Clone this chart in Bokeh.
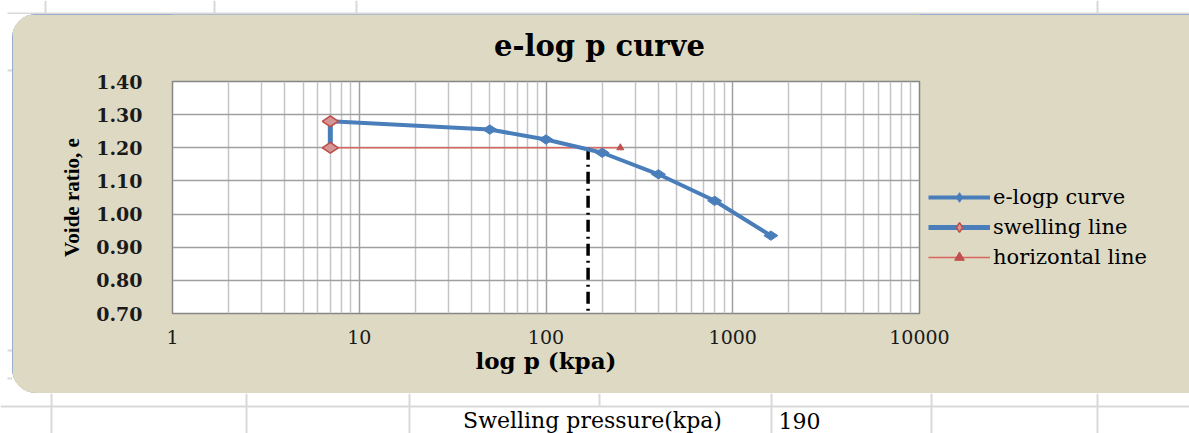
import numpy as np
from bokeh.plotting import figure
from bokeh.layouts import column, row
from bokeh.models import (Range1d, FixedTicker, NumeralTickFormatter, Label,
                          Legend, LegendItem)
from bokeh.embed import file_html
from bokeh.resources import INLINE

# ---------------- data ----------------
p_curve = [7, 50, 100, 200, 400, 800, 1600]
e_curve = [1.28, 1.255, 1.225, 1.185, 1.12, 1.04, 0.935]
p_swell = [7, 7]
e_swell = [1.28, 1.20]
p_horiz = [7, 250]
e_horiz = [1.20, 1.20]
p_vert = [168, 168]
e_vert = [1.20, 0.70]
x_major = [1, 10, 100, 1000, 10000]
x_minor = [m * d for d in [1, 10, 100, 1000] for m in range(2, 10)]
y_ticks = [0.70, 0.80, 0.90, 1.00, 1.10, 1.20, 1.30, 1.40]
series_names = ["e-logp curve", "swelling line", "horizontal line"]
title_text = "e-log p  curve"
x_title = "log p (kpa)"
y_title = "Voide ratio, e"
cell_label = "Swelling pressure(kpa)"
cell_value = "190"

SERIF = "DejaVu Serif"
BEIGE = "#DDD9C3"
CELL = "#D9D9D9"
FW, FH = 747, 232          # plot frame
BL, BR = 160, 270          # borders left / right of the frame
CW = BL + FW + BR          # chart object width
TH = 55                    # title strip height
PH = 12 + FH + 80          # plot part height


def blank(w, h, bg):
    f = figure(width=w, height=h, x_range=Range1d(0, w), y_range=Range1d(h, 0),
               output_backend="svg", toolbar_location=None, min_border=0,
               x_axis_location=None, y_axis_location=None)
    f.grid.visible = False
    f.outline_line_color = None
    f.background_fill_color = bg
    f.border_fill_color = bg
    return f


# ---------------- title strip of the chart object ----------------
tfig = figure(frame_width=FW, frame_height=TH, x_range=Range1d(0, FW),
              y_range=Range1d(TH, 0), output_backend="svg", toolbar_location=None,
              min_border_left=BL, min_border_right=BR, min_border_top=0,
              min_border_bottom=0, x_axis_location=None, y_axis_location=None)
tfig.grid.visible = False
tfig.outline_line_color = None
tfig.background_fill_color = BEIGE
tfig.border_fill_color = BEIGE
tfig.add_layout(Label(x=432, y=31, text=title_text, text_align="center",
                      text_baseline="middle", text_font=SERIF,
                      text_font_style="bold", text_font_size="29px",
                      text_color="black"))

# ---------------- plot part of the chart object ----------------
p = figure(frame_width=FW, frame_height=FH, x_axis_type="log",
           x_range=Range1d(1, 10000), y_range=Range1d(0.7, 1.4),
           output_backend="svg", toolbar_location=None,
           min_border_left=BL, min_border_right=BR,
           min_border_top=12, min_border_bottom=80)
p.title.visible = False
p.border_fill_color = BEIGE
p.background_fill_color = "white"
p.outline_line_color = "#868686"
p.outline_line_width = 1.5

p.xaxis.ticker = FixedTicker(ticks=x_major, minor_ticks=x_minor)
p.xaxis.formatter = NumeralTickFormatter(format="0")
p.yaxis.ticker = FixedTicker(ticks=y_ticks)
p.yaxis.formatter = NumeralTickFormatter(format="0.00")

for ax in (p.xaxis[0], p.yaxis[0]):
    ax.axis_line_color = None
    ax.major_tick_line_color = None
    ax.minor_tick_line_color = None
    ax.major_label_text_font = SERIF
    ax.major_label_text_color = "#1a1a1a"
    ax.axis_label_text_font_style = "bold"
    ax.axis_label_text_color = "black"

p.xaxis.major_label_text_font_size = "19px"
p.xaxis.major_label_standoff = 10
p.xaxis.axis_label = x_title
p.xaxis.axis_label_text_font = SERIF
p.xaxis.axis_label_text_font_size = "23px"
p.xaxis.axis_label_standoff = 0

p.yaxis.major_label_text_font_size = "19px"
p.yaxis.major_label_text_font_style = "bold"
p.yaxis.major_label_standoff = 24
p.yaxis.axis_label = y_title
p.yaxis.axis_label_text_font = "Liberation Serif"
p.yaxis.axis_label_text_font_size = "21px"
p.yaxis.axis_label_standoff = 9

p.xgrid.grid_line_color = "#A0A0A0"
p.xgrid.grid_line_width = 1.5
p.xgrid.minor_grid_line_color = "#C4C4C4"
p.xgrid.minor_grid_line_width = 1.5
p.ygrid.grid_line_color = "#A0A0A0"
p.ygrid.grid_line_width = 1.5

blue = "#4A7EBB"
red = "#C0504D"

r_h_line = p.line(p_horiz, e_horiz, line_color="#D9665F", line_width=1.5)
r_h_mark = p.scatter(p_horiz, e_horiz, marker="triangle", size=7,
                     fill_color=red, line_color=red)
p.line(p_vert, e_vert, line_color="black", line_width=3.5, line_dash="12 5 2 5")
r_c_line = p.line(p_curve, e_curve, line_color=blue, line_width=4)
r_c_mark = p.scatter(p_curve, e_curve, marker="diamond", size=14, angle=np.pi / 2,
                     fill_color=blue, line_color=blue)
r_s_line = p.line(p_swell, e_swell, line_color=blue, line_width=5)
r_s_mark = p.scatter(p_swell, e_swell, marker="diamond", size=16, angle=np.pi / 2,
                     fill_color="#D49594", line_color="#BE4B48", line_width=1.5)

legend = Legend(items=[
    LegendItem(label=series_names[0], renderers=[r_c_line, r_c_mark]),
    LegendItem(label=series_names[1], renderers=[r_s_line, r_s_mark]),
    LegendItem(label=series_names[2], renderers=[r_h_line, r_h_mark]),
], location=(9, 44), glyph_width=62, glyph_height=24, label_height=24,
    spacing=6, padding=0, margin=0, label_standoff=3,
    background_fill_alpha=0, border_line_alpha=0,
    label_text_font=SERIF, label_text_font_size="21px", label_text_color="black")
p.add_layout(legend, "right")

chart = column(tfig, p, styles={"border-radius": "24px 16px 16px 24px",
                                "overflow": "hidden",
                                "background-color": BEIGE,
                                "outline": "1.5px solid #7F9FCF",
                                "outline-offset": "-1.5px"})

# ---------------- spreadsheet cells around the chart object ----------------
RW = 1189
top = blank(RW, 14, "white")
top.segment(x0=[7, 45, 214, 356, 1097], y0=[13, 0, 0, 0, 0],
            x1=[RW, 45, 214, 356, 1097], y1=[13, 13, 13, 13, 13],
            line_color=CELL, line_width=2)

side = blank(12, TH + PH, "white")
side.segment(x0=[7, 7, 7], y0=[56, 336, 364], x1=[12, 12, 12], y1=[56, 336, 364],
             line_color=CELL, line_width=2)

RH = 40
cells = blank(RW, RH, "white")
col_x = [51, 246, 409, 771, 931, 1097]
cells.segment(x0=[0] + col_x + [599], y0=[13] + [0] * len(col_x) + [0],
              x1=[RW] + col_x + [599], y1=[13] + [RH] * len(col_x) + [13],
              line_color=CELL, line_width=2)
cells.add_layout(Label(x=592, y=27, text=cell_label, text_align="center",
                       text_baseline="middle", text_font=SERIF,
                       text_font_size="22px", text_color="black"))
cells.add_layout(Label(x=778, y=27, text=cell_value, text_align="left",
                       text_baseline="middle", text_font=SERIF,
                       text_font_size="22px", text_color="black"))

root = column(top, row(side, chart), cells)

open("out.html", "w").write(file_html(root, INLINE))
